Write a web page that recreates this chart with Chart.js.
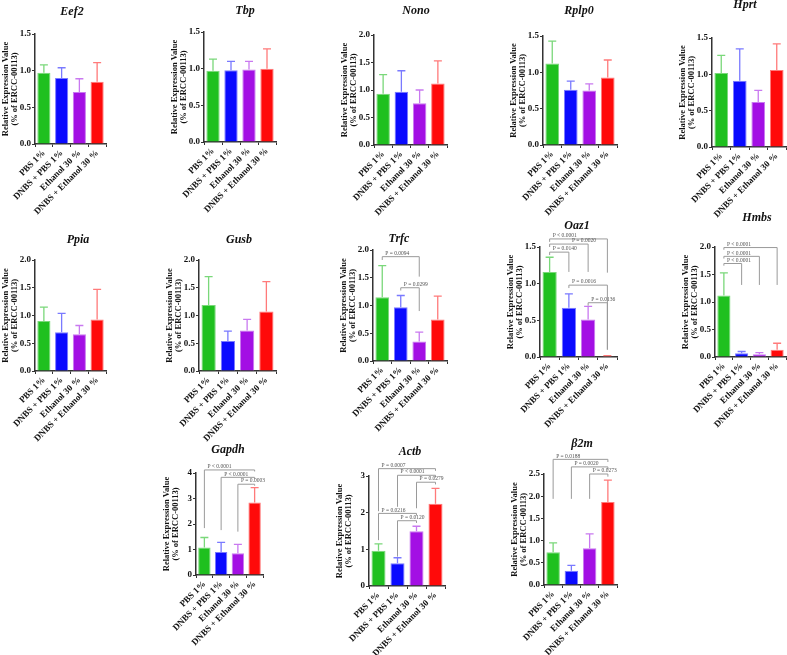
<!DOCTYPE html>
<html>
<head>
<meta charset="utf-8">
<script src="https://cdn.jsdelivr.net/npm/chart.js@4.4.0/dist/chart.umd.min.js"></script>
<style>
  body { margin: 0; background: #fff; width: 787px; height: 655px; overflow: hidden; position: relative; }
  canvas { position: absolute; }
</style>
</head>
<body>
<script>
var groups = ['PBS 1%', 'DNBS + PBS 1%', 'Ethanol 30 %', 'DNBS + Ethanol 30 %'];
var genes = ['Eef2', 'Tbp', 'Nono', 'Rplp0', 'Hprt', 'Ppia', 'Gusb', 'Trfc', 'Oaz1', 'Hmbs', 'Gapdh', 'Actb', 'β2m'];

// mean values and upper end of the error bar
var eef2Mean  = [0.97, 0.90, 0.71, 0.85], eef2Upper  = [1.08, 1.04, 0.89, 1.11];
var tbpMean   = [0.97, 0.98, 0.99, 1.00], tbpUpper   = [1.13, 1.10, 1.10, 1.27];
var nonoMean  = [0.93, 0.97, 0.76, 1.12], nonoUpper  = [1.28, 1.35, 1.00, 1.53];
var rplp0Mean = [1.12, 0.76, 0.75, 0.93], rplp0Upper = [1.43, 0.88, 0.84, 1.17];
var hprtMean  = [1.02, 0.91, 0.62, 1.06], hprtUpper  = [1.26, 1.35, 0.78, 1.42];
var ppiaMean  = [0.90, 0.70, 0.66, 0.93], ppiaUpper  = [1.15, 1.04, 0.82, 1.47];
var gusbMean  = [1.19, 0.54, 0.73, 1.07], gusbUpper  = [1.70, 0.72, 0.93, 1.61];
var trfcMean  = [1.15, 0.97, 0.35, 0.75], trfcUpper  = [1.72, 1.18, 0.52, 1.17];
var oaz1Mean  = [1.16, 0.67, 0.51, 0.01], oaz1Upper  = [1.36, 0.86, 0.69, 0.02];
var hmbsMean  = [1.12, 0.07, 0.05, 0.13], hmbsUpper  = [1.53, 0.10, 0.08, 0.25];
var gapdhMean = [1.08, 0.90, 0.85, 2.84], gapdhUpper = [1.47, 1.28, 1.20, 3.43];
var actbMean  = [0.96, 0.62, 1.49, 2.24], actbUpper  = [1.15, 0.77, 1.63, 2.66];
var b2mMean   = [0.74, 0.32, 0.83, 1.87], b2mUpper   = [0.95, 0.44, 1.15, 2.36];

// y axis range and tick step per gene
var yMax  = [1.5, 1.5, 2, 1.5, 1.5, 2, 2, 2, 1.5, 2, 4, 3, 2.5];
var yStep = [0.5, 0.5, 0.5, 0.5, 0.5, 0.5, 0.5, 0.5, 0.5, 0.5, 1, 1, 0.5];

// comparisons: [from, to, label, bracket height, left leg end, right leg end, label starts at category]
var trfcP = [
  [0, 2, 'P = 0.0094', 1.88, 1.82, 1.52],
  [1, 2, 'P = 0.0299', 1.32, 1.27, 0.90]
];
var oaz1P = [
  [0, 3, 'P < 0.0001', 1.61, 1.57, 1.15],
  [0, 2, 'P = 0.0020', 1.54, 1.50, 1.16, 1],
  [0, 1, 'P = 0.0140', 1.43, 1.39, 1.16],
  [1, 3, 'P = 0.0016', 0.98, 0.94, 0.10],
  [2, 3, 'P = 0.0136', 0.74, 0.70, 0.10]
];
var hmbsP = [
  [0, 3, 'P < 0.0001', 1.99, 1.95, 1.31],
  [0, 2, 'P < 0.0001', 1.83, 1.79, 1.31],
  [0, 1, 'P < 0.0001', 1.70, 1.66, 1.31]
];
var gapdhP = [
  [0, 3, 'P < 0.0001', 4.12, 1.84, 4.06],
  [1, 3, 'P < 0.0001', 3.83, 1.76, 3.77],
  [2, 3, 'P = 0.0003', 3.56, 1.70, 3.50]
];
var actbP = [
  [0, 3, 'P = 0.0007', 3.20, 2.04, 3.14],
  [1, 3, 'P < 0.0001', 3.02, 2.16, 2.96],
  [2, 3, 'P = 0.0279', 2.83, 2.12, 2.77],
  [0, 2, 'P = 0.0216', 1.98, 1.25, 1.92],
  [1, 2, 'P = 0.0120', 1.78, 0.80, 1.72]
];
var b2mP = [
  [0, 3, 'P = 0.0188', 2.83, 1.94, 2.77],
  [1, 3, 'P = 0.0020', 2.66, 1.94, 2.60],
  [2, 3, 'P = 0.0273', 2.50, 1.94, 2.44]
];

var means  = [eef2Mean, tbpMean, nonoMean, rplp0Mean, hprtMean, ppiaMean, gusbMean, trfcMean, oaz1Mean, hmbsMean, gapdhMean, actbMean, b2mMean];
var uppers = [eef2Upper, tbpUpper, nonoUpper, rplp0Upper, hprtUpper, ppiaUpper, gusbUpper, trfcUpper, oaz1Upper, hmbsUpper, gapdhUpper, actbUpper, b2mUpper];
var comps  = [[], [], [], [], [], [], [], trfcP, oaz1P, hmbsP, gapdhP, actbP, b2mP];

// page placement of each panel: [y axis x, top of y axis, x axis y, right end, title x, title y]
var panels = [
  [35, 34, 144, 106, 72, 12],
  [204, 32, 142, 276, 245, 11],
  [374, 35, 145, 447, 416, 11],
  [543, 36, 145, 617, 579, 11],
  [712, 38, 147, 786, 745, 5],
  [35, 260, 371, 106, 78, 240],
  [199, 260, 371, 276, 239, 240],
  [373, 250, 361, 447, 399, 239],
  [540, 247, 357, 617, 577, 226],
  [715, 247, 357, 786, 757, 218],
  [196, 473, 575, 263, 228, 450],
  [369, 476, 586, 445, 410, 452],
  [544, 474, 585, 617, 582, 444]
];

var barColors = ['#1fc01f', '#0a0aff', '#a30fe4', '#ff0a0a'];
var lightColors = ['#7ad87a', '#7a7aff', '#c979f0', '#ff7a7a'];
var serif = 'Liberation Serif, Times New Roman, serif';
var YW = 62, XH = 95, PR = 4;

function makeExtras(k, left, top) {
  return {
    id: 'extras' + k,
    afterDatasetsDraw: function(chart) {
      var c = chart.ctx, xs = chart.scales.x, ys = chart.scales.y;
      c.save();
      // error bars (upper side only)
      uppers[k].forEach(function(u, i) {
        var px = xs.getPixelForValue(i);
        var y0 = ys.getPixelForValue(means[k][i]);
        var y1 = ys.getPixelForValue(u);
        c.strokeStyle = lightColors[i];
        c.lineWidth = 1.3;
        c.beginPath();
        c.moveTo(px, y0); c.lineTo(px, y1);
        c.moveTo(px - 4, y1); c.lineTo(px + 4, y1);
        c.stroke();
      });
      // significance brackets
      comps[k].forEach(function(b) {
        var xl = xs.getPixelForValue(b[0]), xr = xs.getPixelForValue(b[1]);
        var py = ys.getPixelForValue(b[3]);
        c.strokeStyle = '#9a9a9a';
        c.lineWidth = 1;
        c.beginPath();
        c.moveTo(xl, ys.getPixelForValue(b[4]));
        c.lineTo(xl, py); c.lineTo(xr, py);
        c.lineTo(xr, ys.getPixelForValue(b[5]));
        c.stroke();
        var lx = b.length > 6 ? xs.getPixelForValue(b[6]) : xl;
        c.fillStyle = '#555';
        c.font = '5.5px ' + serif;
        c.textAlign = 'left';
        c.textBaseline = 'bottom';
        c.fillText(b[2], lx + 3, py - 0.5);
      });
      // gene name
      var p = panels[k];
      c.fillStyle = '#111';
      c.font = 'italic bold 12px ' + serif;
      c.textAlign = 'center';
      c.textBaseline = 'middle';
      c.fillText(genes[k], p[4] - left, p[5] - top);
      c.restore();
    }
  };
}

genes.forEach(function(g, k) {
  var p = panels[k];
  var left = p[0] - YW;
  var top = p[5] - 12;
  var PT = p[1] - top;
  var w = YW + (p[3] - p[0]) + PR;
  var h = PT + (p[2] - p[1]) + XH;
  var cv = document.createElement('canvas');
  cv.width = w; cv.height = h;
  cv.style.left = left + 'px'; cv.style.top = top + 'px';
  cv.style.width = w + 'px'; cv.style.height = h + 'px';
  document.body.appendChild(cv);

  new Chart(cv.getContext('2d'), {
    type: 'bar',
    data: {
      labels: groups,
      datasets: [{
        data: means[k],
        backgroundColor: barColors,
        borderColor: lightColors,
        borderWidth: 1,
        barPercentage: 0.74,
        categoryPercentage: 1
      }]
    },
    options: {
      responsive: false,
      animation: false,
      devicePixelRatio: 1,
      layout: { padding: { top: PT, right: PR, left: 0, bottom: 0 } },
      plugins: { legend: { display: false }, tooltip: { enabled: false }, title: { display: false } },
      scales: {
        x: {
          afterFit: function(s) { s.height = XH; },
          grid: { drawOnChartArea: false, drawTicks: true, tickLength: 3, color: '#333' },
          border: { display: true, color: '#333', width: 1.5 },
          ticks: {
            autoSkip: false, minRotation: 45, maxRotation: 45, padding: 1,
            color: '#111', font: { family: serif, size: 9, weight: 'bold' }
          }
        },
        y: {
          min: 0, max: yMax[k],
          afterFit: function(s) { s.width = YW; },
          grid: { drawOnChartArea: false, drawTicks: true, tickLength: 3, color: '#333' },
          border: { display: true, color: '#333', width: 1.5 },
          ticks: {
            stepSize: yStep[k], padding: 1, color: '#111',
            font: { family: serif, size: 9, weight: 'bold' },
            callback: function(v) { return yStep[k] < 1 ? v.toFixed(1) : String(v); }
          },
          title: {
            display: true,
            text: ['Relative Expression Value', '(% of ERCC-00113)'],
            color: '#111',
            font: { family: serif, size: 8.5, weight: 'bold', lineHeight: 1.0 },
            padding: { top: 29, bottom: 0 }
          }
        }
      }
    },
    plugins: [makeExtras(k, left, top)]
  });
});
</script>
</body>
</html>
